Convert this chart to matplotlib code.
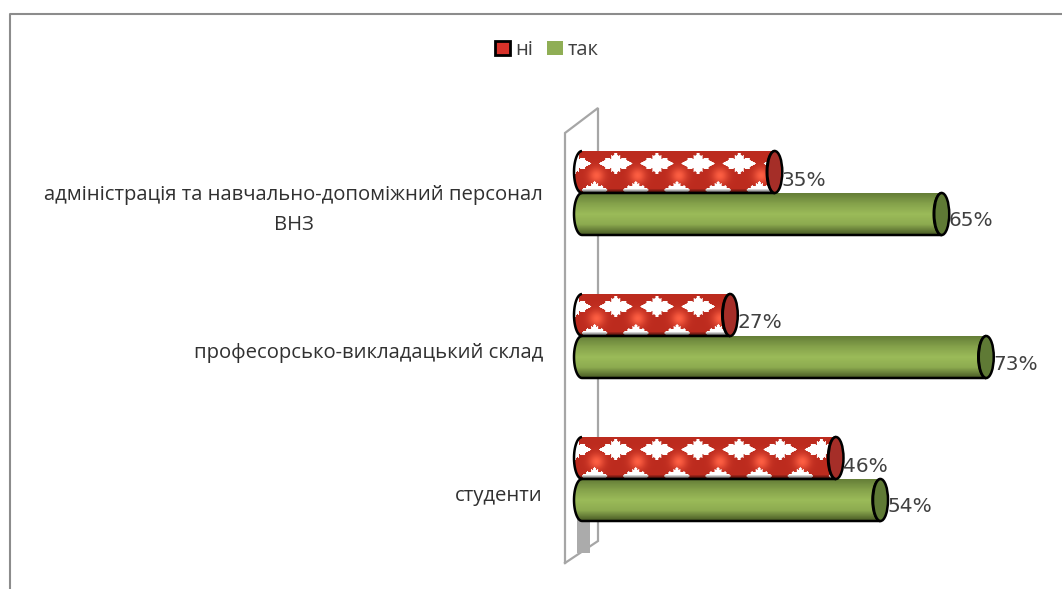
import matplotlib
matplotlib.use("Agg")
import matplotlib.pyplot as plt
from matplotlib.patches import Ellipse, PathPatch, Patch
from matplotlib.path import Path
from matplotlib.colors import LinearSegmentedColormap
import numpy as np

categories = ["студенти", "професорсько-викладацький склад",
              "адміністрація та навчально-допоміжний персонал\nВНЗ"]
ni = [46, 27, 35]
tak = [54, 73, 65]
legend_labels = ["ні", "так"]

W, H = 1062, 589
PX_X = 5.565   # pixels per percent
PX_Y = 143.0   # pixels per category
X0, Y0 = 588, 479   # pixel position of value 0 / first category

plt.rcParams["font.family"] = ["Open Sans", "DejaVu Sans"]
fig = plt.figure(figsize=(W / 100, H / 100), dpi=100)
ax = fig.add_axes([0, 0, 1, 1])


def dx(px):
    return px / PX_X


def dy(px):
    return px / PX_Y


def to_x(px):
    return (px - X0) / PX_X


def to_y(py):
    return (Y0 - py) / PX_Y


def body_path(value, yc, h):
    # cylinder outline: bulged left end, right end follows the cap
    t = np.linspace(np.pi / 2, 3 * np.pi / 2, 30)
    left = to_x(574 + 8) + dx(8) * np.cos(t)
    right_c = value - dx(8)
    xs = np.r_[left, right_c + dx(8) * np.cos(t[::-1])]
    ys = np.r_[yc + h / 2 * np.sin(t), yc + h / 2 * np.sin(t[::-1])]
    return Path(np.c_[xs, ys], closed=False), right_c


def star_texture(w, h):
    # maple-like pattern of the red bars, in pixels
    yy, xx = np.mgrid[0:h, 0:w].astype(float)
    img = np.ones((h, w, 3)) * np.array([0.74, 0.17, 0.12])
    px, py = 41.0, 50.0
    rx = (xx - 22 + px / 2) % px - px / 2
    ry = (yy - 24 + py / 2) % py - py / 2
    glow = np.exp(-(rx ** 2 + ry ** 2) / 60.0)
    img += glow[..., None] * np.array([0.25, 0.2, 0.14])
    mask = np.zeros((h, w), bool)
    for ox, oy, size in [(41, 12, 10.5), (20, 38.5, 8.5)]:
        sx = (xx - ox + px / 2) % px - px / 2
        sy = (yy - oy + py / 2) % py - py / 2
        r = np.hypot(sx * 0.85, sy * 1.25)
        th = np.arctan2(sy, sx)
        mask |= r < size * (1 + 0.18 * np.cos(4 * th) + 0.12 * np.cos(12 * th))
    img[mask] = 1.0
    shade = np.clip((yy - (h - 5)) / 5.0, 0, 1) * 0.85
    img *= (1 - shade)[..., None]
    return np.clip(img, 0, 1)


green_cmap = LinearSegmentedColormap.from_list(
    "green", ["#667f38", "#85a24b", "#9bbb59", "#8dab50", "#4a5c26"])
bar_h = 42 / PX_Y


def draw_bar(value, yc, textured):
    path, right_c = body_path(value, yc, bar_h)
    patch = PathPatch(path, facecolor="none", edgecolor="black", lw=1.8, zorder=4)
    ax.add_patch(patch)
    ext = [to_x(574), value, yc - bar_h / 2, yc + bar_h / 2]
    if textured:
        im = ax.imshow(star_texture(int((value - to_x(574)) * PX_X), 42),
                       extent=ext, aspect="auto", zorder=3,
                       interpolation="bilinear")
        cap_color = "#a52e28"
    else:
        im = ax.imshow(np.linspace(0, 1, 42)[:, None], extent=ext, aspect="auto",
                       cmap=green_cmap, zorder=3)
        cap_color = "#5f7a35"
    im.set_clip_path(patch)
    ax.add_patch(Ellipse((right_c, yc), dx(15), bar_h, facecolor=cap_color,
                         edgecolor="black", lw=1.8, zorder=5))


# wall of the 3-d chart
wall_x = [to_x(565), to_x(565), to_x(598), to_x(598), to_x(565)]
wall_y = [to_y(563), to_y(133), to_y(108), to_y(541), to_y(563)]
ax.plot(wall_x, wall_y, color="#a6a6a6", lw=1.6, zorder=1, solid_joinstyle="miter")
ax.fill_between([to_x(577), to_x(590)], to_y(553), to_y(515), color="#ababab",
                lw=0, zorder=1)

for i, cat in enumerate(categories):
    y_ni = i + dy(21)
    y_tak = i - dy(21)
    draw_bar(tak[i], y_tak, False)
    draw_bar(ni[i], y_ni, True)
    ax.text(ni[i] + dx(-1), y_ni - dy(8), f"{ni[i]}%", fontsize=14.5, color="#404040",
            va="center", ha="left", zorder=6, family=["DejaVu Sans"])
    ax.text(tak[i] + dx(-1), y_tak - dy(7), f"{tak[i]}%", fontsize=14.5, color="#404040",
            va="center", ha="left", zorder=6, family=["DejaVu Sans"])
    ax.text(to_x(543), i - dy(17), cat, fontsize=14.6, color="#303030",
            ha="right", va="center", multialignment="center", linespacing=1.7)

handles = [Patch(facecolor="#d8322a", edgecolor="black", lw=2),
           Patch(facecolor="#8fae55", edgecolor="none")]
ax.legend(handles, legend_labels, loc="center", bbox_to_anchor=(547 / W, 1 - 50 / H),
          ncol=2, frameon=False, fontsize=14.5, handlelength=0.75, handleheight=0.75,
          handletextpad=0.25, columnspacing=0.7, labelcolor="#404040")

ax.set_xlim(to_x(0), to_x(W))
ax.set_ylim(to_y(H), to_y(0))
ax.set_axis_off()

# chart area border
ax.plot([to_x(10), to_x(10), to_x(W)], [to_y(H), to_y(14), to_y(14)], color="#8c8c8c",
        lw=1.5, zorder=1)

fig.savefig("out.png", dpi=100)
